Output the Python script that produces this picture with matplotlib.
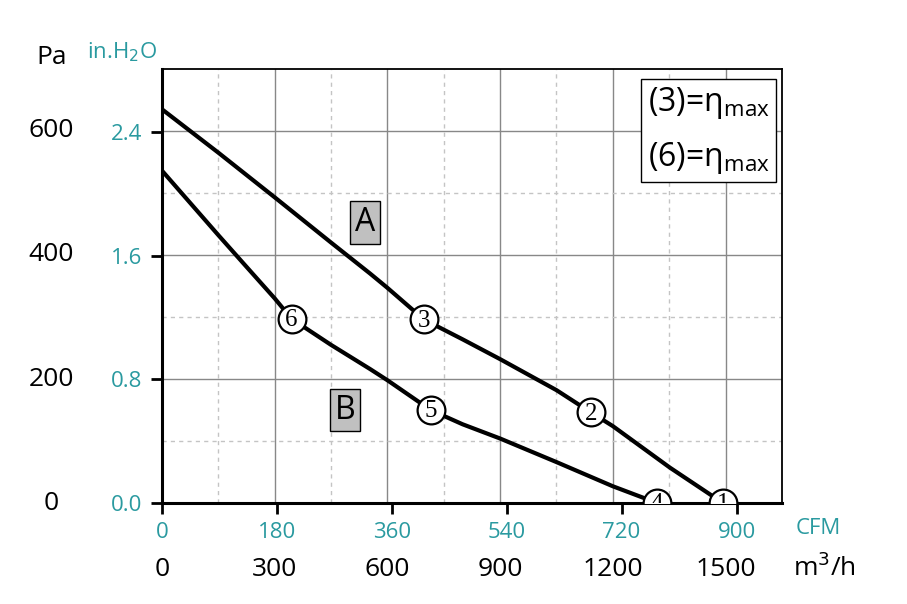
import numpy as np
import matplotlib.pyplot as plt
import matplotlib.transforms as mtransforms

plt.rcParams['font.family'] = ['Open Sans', 'DejaVu Sans']

# curve A and B : flow (m3/h), pressure (Pa)
flow_a = [0, 150, 300, 450, 554, 600, 697, 800, 900, 1050, 1142, 1200, 1352, 1493]
pres_a = [635, 565, 493, 420, 370, 347, 296, 264, 232, 182, 146, 124, 57, 0]
flow_b = [0, 150, 216, 300, 345, 450, 554, 600, 715, 800, 900, 1050, 1200, 1318]
pres_b = [536, 432, 387, 330, 297, 255, 216, 198, 150, 127, 104, 66, 27, 0]

# operating points
pt_labels = ['1', '2', '3', '4', '5', '6']
pt_flow = [1493, 1142, 697, 1318, 715, 345]
pt_pres = [0, 146, 296, 0, 150, 297]

m3h_ticks = [0, 300, 600, 900, 1200, 1500]
cfm_ticks = [0, 180, 360, 540, 720, 900]
pa_ticks = [0, 200, 400, 600]
inh2o_ticks = [0.0, 0.8, 1.6, 2.4]

teal = '#2a9aa0'

fig = plt.figure(figsize=(9.07, 6.04), dpi=100)
ax = fig.add_axes([0.1786, 0.1672, 0.6835, 0.7186])
ax.set_xlim(0, 1650)
ax.set_ylim(0, 700)

# grid
for x in np.arange(150, 1650, 150):
    if x % 300 == 0:
        ax.axvline(x, color='#888888', lw=1.0, zorder=0)
    else:
        ax.axvline(x, color='#c4c4c4', lw=1.0, ls=(0, (3, 3)), zorder=0)
for y in np.arange(100, 700, 100):
    if y % 200 == 0:
        ax.axhline(y, color='#888888', lw=1.0, zorder=0)
    else:
        ax.axhline(y, color='#c4c4c4', lw=1.0, ls=(0, (3, 3)), zorder=0)

ax.plot(flow_a, pres_a, color='black', lw=3.0, zorder=2, solid_joinstyle='round')
ax.plot(flow_b, pres_b, color='black', lw=3.0, zorder=2, solid_joinstyle='round')

for lab, fx, py in zip(pt_labels, pt_flow, pt_pres):
    ax.plot(fx, py, 'o', ms=20, mfc='white', mec='black', mew=1.6, zorder=3)
    t = ax.text(fx, py - 2, lab, ha='center', va='center', fontsize=18,
                family='Liberation Serif', zorder=4)
    t.set_clip_on(True)

ax.text(540, 452, 'A', fontsize=23, ha='center', va='center',
        bbox=dict(boxstyle='square,pad=0.15', fc='#c0c0c0', ec='black', lw=1))
ax.text(487, 150, 'B', fontsize=23, ha='center', va='center',
        bbox=dict(boxstyle='square,pad=0.15', fc='#c0c0c0', ec='black', lw=1))

ax.text(0.98, 0.962, '(3)=$\\mathregular{\\eta_{max}}$\n(6)=$\\mathregular{\\eta_{max}}$',
        transform=ax.transAxes, ha='right', va='top', fontsize=23,
        linespacing=1.7,
        bbox=dict(boxstyle='square,pad=0.2', fc='white', ec='black', lw=1))

for s in ax.spines.values():
    s.set_linewidth(1.3)
ax.spines['left'].set_linewidth(2.2)
ax.spines['bottom'].set_linewidth(2.2)

ax.set_xticks([c * 1.699 for c in cfm_ticks])
ax.set_xticklabels([str(c) for c in cfm_ticks], color=teal, fontsize=16)
ax.set_yticks([v * 249.09 for v in inh2o_ticks])
ax.set_yticklabels(['%.1f' % v for v in inh2o_ticks], color=teal, fontsize=16)
ax.tick_params(axis='both', length=8, width=2, direction='out')
ax.tick_params(axis='x', pad=6)
ax.tick_params(axis='y', pad=6)

tx = mtransforms.blended_transform_factory(ax.transData, fig.transFigure)
for m in m3h_ticks:
    ax.text(m, 1 - 570 / 604, str(m), transform=tx, ha='center', va='center',
            fontsize=19)
fig.text(824 / 907, 1 - 568 / 604, 'm$^3$/h', ha='center', va='center', fontsize=19)
fig.text(818 / 907, 1 - 528 / 604, 'CFM', ha='center', va='center', fontsize=16,
         color=teal)

ty = mtransforms.blended_transform_factory(fig.transFigure, ax.transData)
for p in pa_ticks:
    ax.text(51 / 907, p, str(p), transform=ty, ha='center', va='center',
            fontsize=19)
fig.text(52 / 907, 1 - 57 / 604, 'Pa', ha='center', va='center', fontsize=19)
fig.text(122 / 907, 1 - 52 / 604, 'in.H$_2$O', ha='center', va='center',
         fontsize=16, color=teal)

fig.savefig('out.png', dpi=100)
